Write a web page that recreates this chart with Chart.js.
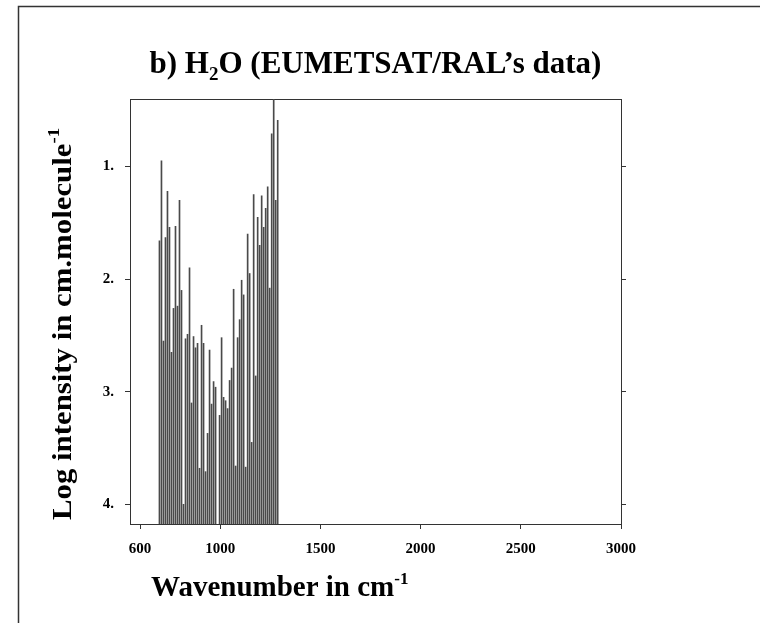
<!DOCTYPE html>
<html>
<head>
<meta charset="utf-8">
<script src="https://cdn.jsdelivr.net/npm/chart.js@4/dist/chart.umd.min.js"></script>
<style>
html,body{margin:0;padding:0;background:#fff;}
#wrap{position:relative;width:760px;height:623px;}
canvas{display:block;}
</style>
</head>
<body>
<div id="wrap"><canvas id="c" width="760" height="623"></canvas></div>
<script>
// ---- data ----
const wavenumbers = [697,707,717,727,737,747,757,767,777,787,797,807,817,827,837,847,857,867,877,887,
  897,907,917,927,937,947,957,967,977,997,1007,1017,1027,1037,1047,1057,1067,1077,1087,1097,
  1107,1117,1127,1137,1147,1157,1167,1177,1187,1197,1207,1217,1227,1237,1247,1257,1267,1277,1287];
const logIntensity = [1.66,0.95,2.55,1.63,1.22,1.54,2.65,2.26,1.53,2.24,1.30,2.10,4.00,2.53,2.49,1.90,3.10,2.51,2.61,2.57,
  3.68,2.41,2.57,3.71,3.37,2.63,3.11,2.91,2.96,3.21,2.52,3.05,3.08,3.15,2.90,2.79,2.09,3.66,2.52,2.36,
  2.01,2.14,3.67,1.60,1.95,3.45,1.25,2.86,1.45,1.70,1.26,1.54,1.37,1.18,2.08,0.71,0.35,1.30,0.59];
const xTickValues = [600,1000,1500,2000,2500,3000];
const xTickLabels = ['600','1000','1500','2000','2500','3000'];
const yTickValues = [1,2,3,4];
const yTickLabels = ['1.','2.','3.','4.'];
const titleParts = [{t:'b) H'},{t:'2',sub:true},{t:'O (EUMETSAT/RAL\u2019s data)'}];
const xTitleParts = [{t:'Wavenumber in cm'},{t:'-1',sup:true}];
const yTitleParts = [{t:'Log intensity in cm.molecule'},{t:'-1',sup:true}];

// ---- axis ranges ----
const X_MIN = 550, X_MAX = 3000;
const Y_MIN = 0.4, Y_MAX = 4.175;

const FONT = '"Liberation Serif","Times New Roman",serif';
const AXIS_COLOR = '#333';

function drawRich(ctx, parts, x, y, size, align) {
  const fontOf = p => 'bold ' + ((p.sub || p.sup) ? Math.round(size*0.6) : size) + 'px ' + FONT;
  const widths = parts.map(p => { ctx.font = fontOf(p); return ctx.measureText(p.t).width; });
  const total = widths.reduce((a,b)=>a+b,0);
  let cx = align === 'center' ? x - total/2 : x;
  ctx.textAlign = 'left';
  ctx.textBaseline = 'alphabetic';
  parts.forEach((p,i) => {
    ctx.font = fontOf(p);
    const dy = p.sub ? size*0.22 : (p.sup ? -size*0.42 : 0);
    ctx.fillText(p.t, cx, y + dy);
    cx += widths[i];
  });
}

const textPlugin = {
  id: 'richText',
  beforeDraw(chart) {
    const ctx = chart.ctx;
    ctx.save();
    ctx.fillStyle = '#fff';
    ctx.fillRect(0,0,chart.width,chart.height);
    ctx.strokeStyle = '#333';
    ctx.lineWidth = 1.5;
    ctx.strokeRect(18.5, 6.5, 900, 900);
    ctx.restore();
  },
  afterDraw(chart) {
    const ctx = chart.ctx;
    const a = chart.chartArea;
    ctx.save();
    ctx.fillStyle = '#000';
    drawRich(ctx, titleParts, (a.left + a.right)/2, 73, 31, 'center');
    drawRich(ctx, xTitleParts, 151, 596, 29, 'left');
    ctx.translate(71, 520);
    ctx.rotate(-Math.PI/2);
    ctx.scale(1.1, 1);
    drawRich(ctx, yTitleParts, 0, 0, 28, 'left');
    ctx.restore();
  }
};

const tickFont = {family: FONT, size: 15, weight: 'bold'};

new Chart(document.getElementById('c'), {
  type: 'bar',
  data: {
    datasets: [{
      data: wavenumbers.map((w,i) => ({x: w, y: logIntensity[i]})),
      base: Y_MAX,
      backgroundColor: '#4a4a4a',
      borderWidth: 0,
      barThickness: 1,
      grouped: false
    }]
  },
  options: {
    responsive: false,
    devicePixelRatio: 1,
    animation: false,
    layout: {padding: {left: 70, right: 134, top: 99, bottom: 59}},
    plugins: {legend: {display: false}, tooltip: {enabled: false}, title: {display: false}},
    scales: {
      x: {
        type: 'linear', position: 'bottom', min: X_MIN, max: X_MAX, offset: false,
        afterBuildTicks: s => { s.ticks = xTickValues.map(v => ({value: v})); },
        afterFit: s => { s.height = 40; },
        ticks: {callback: v => xTickLabels[xTickValues.indexOf(v)], font: tickFont, color: '#000', padding: 11, maxRotation: 0, autoSkip: false},
        grid: {drawOnChartArea: false, drawTicks: true, tickLength: 5, color: AXIS_COLOR, offset: false},
        border: {display: true, color: AXIS_COLOR, width: 1}
      },
      xTop: {
        type: 'linear', position: 'top', min: X_MIN, max: X_MAX, offset: false,
        afterFit: s => { s.height = 0; },
        ticks: {display: false},
        grid: {drawOnChartArea: false, drawTicks: false, offset: false},
        border: {display: true, color: AXIS_COLOR, width: 1}
      },
      y: {
        type: 'linear', position: 'left', min: Y_MIN, max: Y_MAX, reverse: true,
        afterBuildTicks: s => { s.ticks = yTickValues.map(v => ({value: v})); },
        afterFit: s => { s.width = 60; },
        ticks: {callback: v => yTickLabels[yTickValues.indexOf(v)], font: tickFont, color: '#000', padding: 11, autoSkip: false},
        grid: {drawOnChartArea: false, drawTicks: true, tickLength: 5, color: AXIS_COLOR},
        border: {display: true, color: AXIS_COLOR, width: 1}
      },
      yRight: {
        type: 'linear', position: 'right', min: Y_MIN, max: Y_MAX, reverse: true,
        afterBuildTicks: s => { s.ticks = yTickValues.map(v => ({value: v})); },
        afterFit: s => { s.width = 5; },
        ticks: {display: false},
        grid: {drawOnChartArea: false, drawTicks: true, tickLength: 5, color: AXIS_COLOR},
        border: {display: true, color: AXIS_COLOR, width: 1}
      }
    }
  },
  plugins: [textPlugin]
});
</script>
</body>
</html>
